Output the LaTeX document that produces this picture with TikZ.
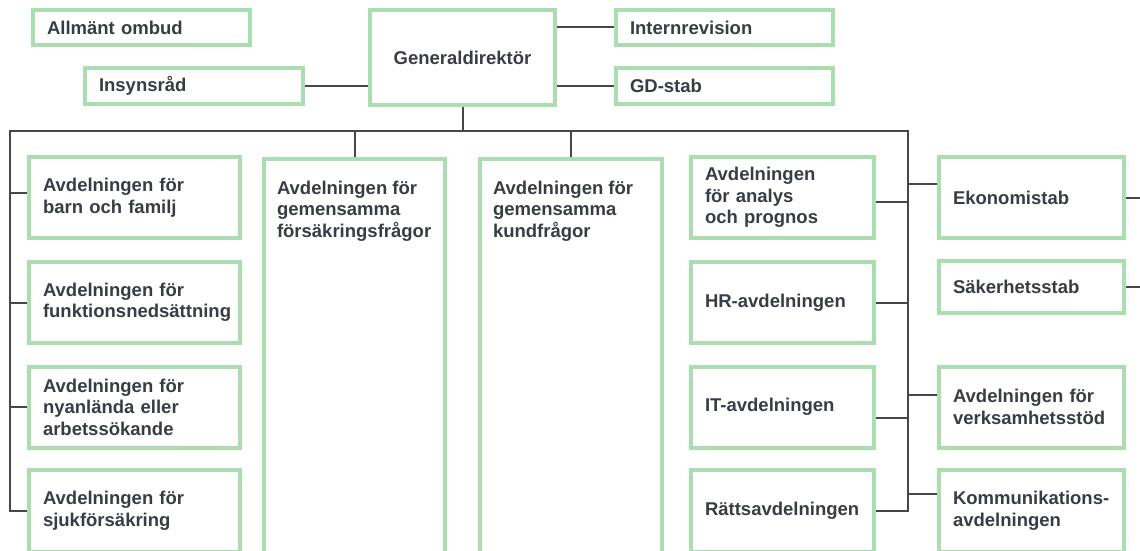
\documentclass[tikz,border=0pt]{standalone}
\usepackage{fontspec}
\setmainfont{Liberation Sans}
\definecolor{boxgreen}{RGB}{170,222,176}
\definecolor{inkgray}{RGB}{56,60,69}
\definecolor{linkgray}{RGB}{70,70,76}
\tikzset{
  unit/.style={draw=boxgreen, line width=4pt, fill=white, text=inkgray,
    font=\bfseries\fontsize{18.5}{21.5}\selectfont, align=left,
    inner xsep=14pt, inner ysep=0pt},
  tallunit/.style={unit, anchor=north west, inner xsep=13pt, inner ysep=22pt},
  link/.style={draw=linkgray, line width=2pt}
}
\begin{document}
\begin{tikzpicture}[x=1pt, y=-1pt]
    \useasboundingbox (0, 0) rectangle (1140, 551);
    \clip (0, 0) rectangle (1140, 551);

    % Top level
    \node[unit, text width=189pt, minimum height=35pt] (allm) at (141.5, 27.5) {Allmänt ombud};
    \node[unit, text width=190pt, minimum height=36pt] (insyn) at (194, 86) {Insynsråd};
    \node[unit, align=center, minimum width=185pt, minimum height=95pt] (gd) at (462.5, 57.5) {Generaldirektör};
    \node[unit, text width=189pt, minimum height=35pt] (intern) at (724.5, 27.5) {Internrevision};
    \node[unit, text width=189pt, minimum height=36pt] (gdstab) at (724.5, 86) {GD-stab};

    % Left column
    \node[unit, text width=183pt, minimum height=81pt] (barn) at (134.5, 197.5) {Avdelningen för\\barn och familj};
    \node[unit, text width=183pt, minimum height=81pt] (funk) at (134.5, 302.5) {Avdelningen för\\funktionsnedsättning};
    \node[unit, text width=183pt, minimum height=81pt] (nyan) at (134.5, 407) {Avdelningen för\\nyanlända eller\\arbetssökande};
    \node[unit, text width=183pt, minimum height=82pt] (sjuk) at (134.5, 511) {Avdelningen för\\sjukförsäkring};

    % Tall columns
    \node[tallunit] (fors) at (262, 157)
      {\parbox[c][351pt][t]{155pt}{Avdelningen för\\gemensamma\\försäkringsfrågor}};
    \node[tallunit] (kund) at (478, 157)
      {\parbox[c][351pt][t]{156pt}{Avdelningen för\\gemensamma\\kundfrågor}};

    % Right column (departments)
    \node[unit, text width=155pt, minimum height=81pt] (analys) at (782.5, 197.5) {Avdelningen\\för analys\\och prognos};
    \node[unit, text width=155pt, minimum height=81pt] (hr) at (782.5, 302.5) {HR-avdelningen};
    \node[unit, text width=155pt, minimum height=81pt] (it) at (782.5, 407) {IT-avdelningen};
    \node[unit, text width=155pt, minimum height=82pt] (ratts) at (782.5, 511) {Rättsavdelningen};

    % Right column (staffs)
    \node[unit, text width=157pt, minimum height=81pt] (ekon) at (1031.5, 197.5) {Ekonomistab};
    \node[unit, text width=157pt, minimum height=52pt] (saker) at (1031.5, 287) {Säkerhetsstab};
    \node[unit, text width=157pt, minimum height=81pt] (verks) at (1031.5, 407) {Avdelningen för\\verksamhetsstöd};
    \node[unit, text width=157pt, minimum height=82pt] (komm) at (1031.5, 511) {Kommunikations-\\avdelningen};

    % Bus corners and right edge
    \coordinate (busL) at (10, 131);
    \coordinate (busR) at (908, 131);
    \coordinate (edgeR) at (1140, 0);

    % Links round the director
    \draw[link] (insyn.east) -- (insyn.east -| gd.west);
    \draw[link] (intern.west) -- (intern.west -| gd.east);
    \draw[link] (gdstab.west) -- (gdstab.west -| gd.east);
    \draw[link] (gd.south) -- (gd.south |- busL);

    % Main bus
    \draw[link] (sjuk.west) -| (busL) -- (busR) |- (ratts.east);
    \draw[link] (fors.north) -- (fors.north |- busL);
    \draw[link] (kund.north) -- (kund.north |- busL);

    % Left branches
    \draw[link] ([yshift=5pt]barn.west) -- ([yshift=5pt]barn.west -| busL);
    \draw[link] (funk.west) -- (funk.west -| busL);
    \draw[link] (nyan.west) -- (nyan.west -| busL);

    % Right branches
    \draw[link] ([yshift=-4.5pt]analys.east) -- ([yshift=-4.5pt]analys.east -| busR);
    \draw[link] (hr.east) -- (hr.east -| busR);
    \draw[link] ([yshift=-11pt]it.east) -- ([yshift=-11pt]it.east -| busR);
    \draw[link] ([yshift=13.5pt]ekon.west) -- ([yshift=13.5pt]ekon.west -| busR);
    \draw[link] ([yshift=12pt]verks.west) -- ([yshift=12pt]verks.west -| busR);
    \draw[link] ([yshift=17pt]komm.west) -- ([yshift=17pt]komm.west -| busR);

    % Staff links off to the right
    \draw[link] (ekon.east) -- (ekon.east -| edgeR);
    \draw[link] (saker.east) -- (saker.east -| edgeR);
\end{tikzpicture}
\end{document}
